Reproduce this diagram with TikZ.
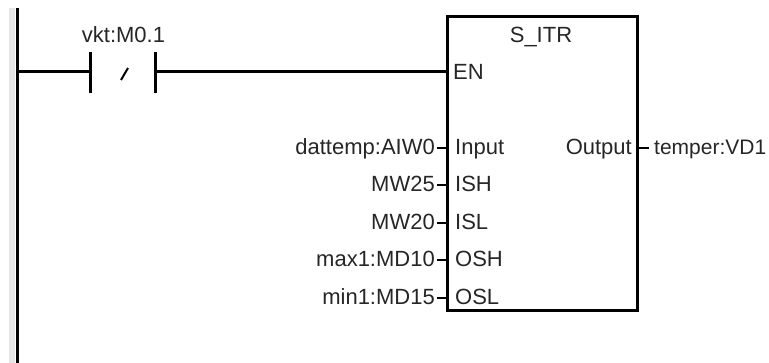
\documentclass[tikz,border=0pt]{standalone}
\usepackage{fontspec}
\setmainfont{Liberation Sans}
\begin{document}
\begin{tikzpicture}[x=1pt,y=-1pt,
  wire/.style={line width=3pt,black},
  stub/.style={line width=2.4pt,black},
  lbl/.style={inner sep=0pt,font=\fontsize{22}{22}\selectfont,text=black!85},
  leftlbl/.style={lbl,anchor=base east},
  pinlbl/.style={lbl,anchor=base west}]
\useasboundingbox (0,0) rectangle (769,363);
\fill[black!10] (9,8) rectangle (15,363);
\draw[line width=3.2pt] (17.5,8) -- (17.5,363);
\coordinate (rail) at (17.5,72);
\coordinate (cl) at (90,72);
\coordinate (cr) at (155,72);
\draw[wire] (rail) -- (cl);
\draw[wire] (90,52) -- (90,93);
\draw[wire] (155,52) -- (155,93);
\draw[line width=2pt] (128,68) -- (121,80);
\node[lbl,anchor=base] (cname) at (123.5,43) {vkt:M0.1};
\node[draw=black,line width=3pt,minimum width=190pt,minimum height=293.5pt,inner sep=0pt,anchor=north west,outer sep=0pt] (box) at (447.5,17) {};
\coordinate (en) at (447.5,72);
\draw[wire] (cr) -- (en);
\node[lbl,anchor=base] (title) at (541,43) {S\_ITR};
\node[pinlbl] (pen) at (453,80) {EN};
\foreach \n/\y/\l/\p in {a/148/dattemp:AIW0/Input,b/185/MW25/ISH,c/223/MW20/ISL,d/260/max1:MD10/OSH,e/298/min1:MD15/OSL}{
  \coordinate (s\n) at (437,\y);
  \coordinate (t\n) at (447.5,\y);
  \draw[stub] (s\n) -- (t\n);
  \node[leftlbl] (l\n) at (435,\y+7) {\l};
  \node[pinlbl] (p\n) at (455,\y+7) {\p};
}
\coordinate (o1) at (637.5,148);
\coordinate (o2) at (649,148);
\draw[stub] (o1) -- (o2);
\node[lbl,anchor=base east] (out) at (632,155) {Output};
\node[pinlbl,font=\fontsize{21}{21}\selectfont] (temper) at (654,155) {temper:VD1};
\end{tikzpicture}
\end{document}
